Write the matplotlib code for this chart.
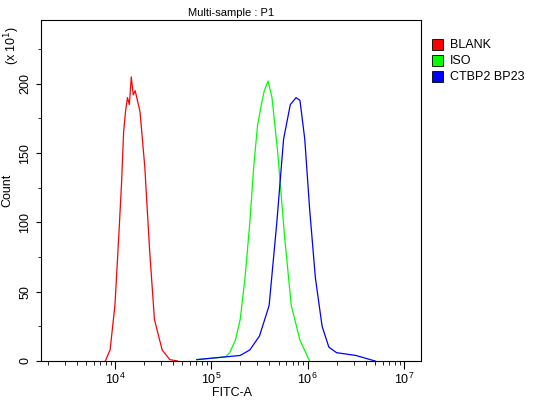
import numpy as np
import matplotlib
matplotlib.use("Agg")
import matplotlib.pyplot as plt
from matplotlib.patches import Rectangle

plt.rcParams['font.family'] = ['Liberation Sans', 'DejaVu Sans']
plt.rcParams['font.size'] = 8

# log10(FITC-A) positions and counts (x10)
red_x = [3.90, 3.95, 4.00, 4.04, 4.07, 4.09, 4.11, 4.13, 4.15, 4.17, 4.19, 4.21, 4.26, 4.31, 4.36, 4.41, 4.49, 4.57, 4.65]
red_y = [0, 8, 40, 90, 130, 165, 180, 190, 185, 205, 192, 195, 180, 140, 80, 30, 8, 1, 0]
green_x = [4.85, 5.00, 5.15, 5.19, 5.25, 5.30, 5.35, 5.40, 5.44, 5.48, 5.52, 5.55, 5.59, 5.63, 5.69, 5.76, 5.83, 5.92, 6.02]
green_y = [1, 2, 3, 6, 15, 30, 60, 100, 140, 170, 185, 195, 202, 190, 150, 90, 40, 15, 0]
blue_x = [4.85, 5.00, 5.15, 5.30, 5.40, 5.50, 5.60, 5.68, 5.75, 5.82, 5.88, 5.92, 5.97, 6.02, 6.08, 6.15, 6.22, 6.30, 6.40, 6.50, 6.60, 6.70]
blue_y = [1, 2, 3, 4, 8, 18, 40, 100, 160, 185, 190, 188, 160, 110, 60, 25, 10, 6, 5, 4, 2, 0]
labels = ["BLANK", "ISO", "CTBP2 BP23"]
colors = ["#ff0000", "#00ff00", "#0000ff"]

fig = plt.figure(figsize=(5.59, 4), dpi=100)
ax = fig.add_axes([41/559, 39/400, 380/559, 341/400])
for xs, ys, c in zip([red_x, green_x, blue_x], [red_y, green_y, blue_y], colors):
    ax.plot(10**np.array(xs), ys, color=c, lw=0.9)

ax.set_xscale('log')
ax.set_xlim(10**3.233, 10**7.176)
ax.set_ylim(0, 246)
ax.set_yticks([0, 50, 100, 150, 200])
ax.set_yticks(np.arange(0, 246, 25), minor=True)
ax.tick_params(axis='y', labelrotation=90, direction='out', labelsize=9)
for lab in ax.get_yticklabels():
    lab.set_va('center')
ax.tick_params(axis='x', which='major', length=6, labelsize=9, pad=2)
ax.tick_params(axis='x', which='minor', length=3)
fig.text(232/559, 1-393/400, "FITC-A", ha='center', va='center', fontsize=9)
ax.set_ylabel("Count", fontsize=9)
ax.set_title("Multi-sample : P1", fontsize=8, pad=3)
fig.text(12/559, 1-45/400, r"(x 10$^1$)", rotation=90, ha='center', va='center', fontsize=9)

for i, (lab, c) in enumerate(zip(labels, colors)):
    y = 1 - (45 + 16*i)/400
    fig.patches.append(Rectangle((432/559, y - 5/400), 11/559, 11/400,
                                 transform=fig.transFigure, facecolor=c, edgecolor='black', lw=0.6))
    fig.text(450/559, y, lab, va='center', fontsize=9)

fig.savefig("out.png", dpi=100)
